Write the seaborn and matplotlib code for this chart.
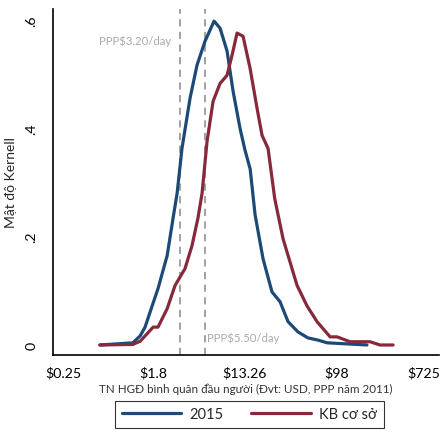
import numpy as np
import pandas as pd
import matplotlib
matplotlib.use("Agg")
import matplotlib.pyplot as plt
import matplotlib.transforms as mtransforms
import seaborn as sns

# income per capita per day (USD, PPP 2011) and kernel density
inc_2015 = [0.56, 1.15, 1.35, 1.50, 1.75, 1.99, 2.43, 2.77, 3.02, 3.36, 4.01, 4.67,
            5.56, 6.77, 7.72, 8.99, 10.25, 11.94, 13.3, 14.9, 16.6, 19.75, 24.0,
            28.6, 34.1, 42.4, 52.8, 65.7, 80.0, 124.0, 191.0]
dens_2015 = [0.0, 0.004, 0.017, 0.033, 0.072, 0.104, 0.165, 0.235, 0.28, 0.363, 0.456, 0.517,
             0.561, 0.598, 0.585, 0.543, 0.469, 0.40, 0.36, 0.325, 0.24, 0.159, 0.098,
             0.08, 0.043, 0.024, 0.013, 0.009, 0.004, 0.002, 0.0]

inc_base = [0.56, 1.15, 1.35, 1.79, 1.99, 2.43, 2.89, 3.59, 4.19, 4.77, 5.21, 5.81,
            6.63, 7.72, 8.99, 10.03, 11.19, 12.76, 14.87, 17.32, 19.32, 22.02, 25.5,
            30.57, 41.5, 51.64, 64.27, 85.37, 99.5, 132.0, 204.0, 254.0, 338.0]
dens_base = [0.0, 0.001, 0.007, 0.033, 0.033, 0.067, 0.11, 0.141, 0.184, 0.235, 0.28, 0.376,
             0.45, 0.483, 0.498, 0.535, 0.576, 0.57, 0.511, 0.437, 0.387, 0.363, 0.27,
             0.196, 0.11, 0.072, 0.043, 0.015, 0.015, 0.006, 0.006, 0.0, 0.0]

series_names = ["2015", "KB cơ sở"]
series_colors = ["#1c4a78", "#86293a"]
poverty_lines = [3.20, 5.50]
x_ticks = [0.25, 1.8, 13.26, 98, 725]
x_ticklabels = ["$0.25", "$1.8", "$13.26", "$98", "$725"]
y_ticks = [0, 0.2, 0.4, 0.6]
y_ticklabels = ["0", ".2", ".4", ".6"]

df = pd.concat([
    pd.DataFrame({"inc": inc_2015, "dens": dens_2015, "grp": series_names[0]}),
    pd.DataFrame({"inc": inc_base, "dens": dens_base, "grp": series_names[1]}),
])

sns.set_style("white")
plt.rcParams["font.family"] = ["Lato", "DejaVu Sans"]

fig = plt.figure(figsize=(4.43, 4.35), dpi=100)
ax = fig.add_axes([0.1196, 0.1816, 0.8714, 0.7954])

sns.lineplot(data=df, x="inc", y="dens", hue="grp", palette=series_colors,
             linewidth=2.3, sort=False, estimator=None, ax=ax, legend=False)

for v in poverty_lines:
    ax.axvline(v, color="#9a9a9a", linestyle=(0, (4, 3)), linewidth=1.3, zorder=0)

ax.text(2.65, 0.563, "PPP$3.20/day", color="#aaaaaa", fontsize=8.2, ha="right", va="center")
ax.text(5.75, 0.015, "PPP$5.50/day", color="#aaaaaa", fontsize=8.2, ha="left", va="center")

ax.set_xscale("log")
ax.set_xlim(0.2007, 922)
ax.set_ylim(-0.0185, 0.6204)
ax.set_xticks(x_ticks)
ax.set_xticklabels(x_ticklabels)
ax.minorticks_off()
ax.set_yticks(y_ticks)
ax.set_yticklabels(y_ticklabels, rotation=90, va="center")
ax.tick_params(axis="both", length=5, width=1, colors="black", labelsize=10.2, direction="out")
ax.tick_params(axis="x", pad=3)
ax.tick_params(axis="y", pad=6)

# last x label sits right at the figure edge, nudge it left a little
last = ax.get_xticklabels()[-1]
last.set_transform(last.get_transform() + mtransforms.ScaledTranslation(-4 / 100, 0, fig.dpi_scale_trans))

for s in ["top", "right"]:
    ax.spines[s].set_visible(False)
for s in ["left", "bottom"]:
    ax.spines[s].set_color("black")
    ax.spines[s].set_linewidth(1.2)

ax.set_xlabel("TN HGĐ bình quân đầu người (Đvt: USD, PPP năm 2011)", fontsize=8.4,
              color="#333333", labelpad=3)
ax.set_ylabel("Mật độ Kernell", fontsize=10, labelpad=6)

handles = [plt.Line2D([], [], color=c, linewidth=2.3) for c in series_colors]
leg = fig.legend(handles, series_names, loc="lower center", bbox_to_anchor=(0.563, -0.003),
                 ncol=2, frameon=True, fancybox=False, edgecolor="black", fontsize=10.5,
                 handlelength=4.1, handletextpad=0.55, columnspacing=1.9, borderpad=0.45)
leg.get_frame().set_linewidth(0.8)

fig.savefig("out.png", dpi=100)
